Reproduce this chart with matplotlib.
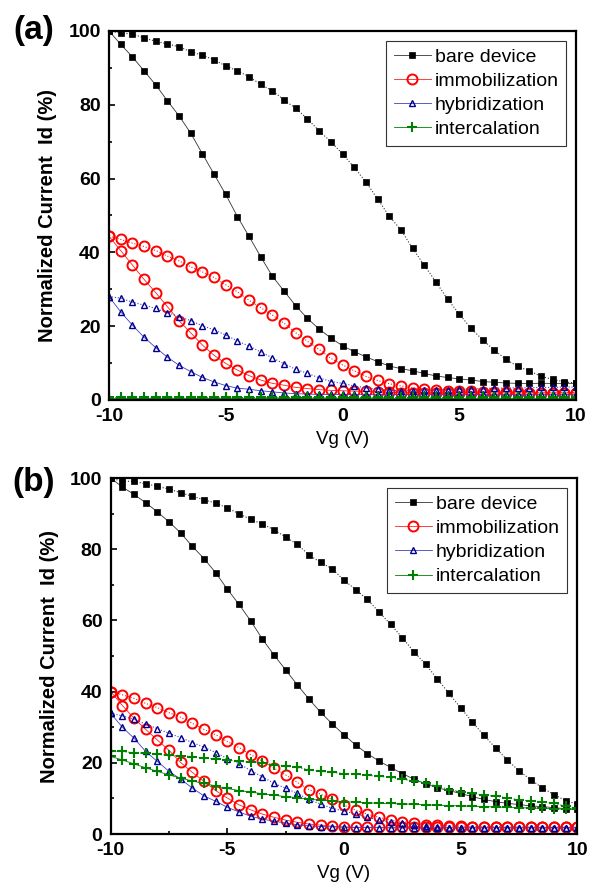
import numpy as np
import matplotlib
matplotlib.use('Agg')
import matplotlib.pyplot as plt
from matplotlib.ticker import MultipleLocator

plt.rcParams['font.family'] = ['Liberation Sans', 'DejaVu Sans']
plt.rcParams['axes.unicode_minus'] = False

# ─── DATA (Vg sweep, 0.5 V step) ───
VG = [-10, -9.5, -9, -8.5, -8, -7.5, -7, -6.5, -6, -5.5, -5, -4.5, -4, -3.5, -3,
      -2.5, -2, -1.5, -1, -0.5, 0, 0.5, 1, 1.5, 2, 2.5, 3, 3.5, 4, 4.5, 5, 5.5,
      6, 6.5, 7, 7.5, 8, 8.5, 9, 9.5, 10]

# panel (a)
bare_a_lo = [100, 96.4, 93.0, 89.2, 85.4, 81.1, 77.0, 72.3, 66.7, 61.2, 55.7, 49.7, 44.3, 38.8, 33.5,
             29.5, 25.5, 22.1, 19.2, 16.8, 14.7, 13.1, 11.7, 10.4, 9.2, 8.5, 7.9, 7.2, 6.5, 6.1, 5.7, 5.4,
             5.0, 4.8, 4.6, 4.5, 4.5, 4.5, 4.5, 4.5, 4.5]
bare_a_up = [100, 99.4, 99.2, 98.1, 97.2, 96.5, 95.7, 94.4, 93.4, 92.2, 90.5, 89.2, 87.6, 85.5, 83.8,
             81.3, 79.0, 76.2, 72.9, 70.0, 66.7, 63.0, 59.1, 54.5, 49.8, 46.1, 41.1, 36.5, 32.0, 27.3, 23.3, 19.4,
             16.3, 13.5, 11.0, 9.1, 7.9, 6.4, 5.6, 4.9, 4.6]
immo_a_up = [44.4, 43.5, 42.5, 41.6, 40.5, 39.0, 37.7, 36.1, 34.7, 33.2, 31.2, 29.3, 27.0, 25.0, 23.0,
             20.8, 18.2, 15.9, 13.7, 11.3, 9.5, 7.9, 6.4, 5.3, 4.4, 3.8, 3.3, 3.0, 2.7, 2.5, 2.4, 2.3,
             2.2, 2.2, 2.1, 2.1, 2.0, 2.0, 2.0, 2.0, 2.0]
immo_a_lo = [44.4, 40.5, 36.6, 32.7, 29.1, 25.3, 21.5, 18.2, 14.9, 12.1, 9.9, 8.1, 6.6, 5.4, 4.5,
             4.0, 3.4, 3.1, 2.8, 2.6, 2.5, 2.4, 2.3, 2.2, 2.1, 2.0, 1.9, 1.9, 1.9, 1.9, 1.9, 1.9,
             1.9, 1.9, 1.9, 1.9, 1.9, 1.9, 1.9, 1.9, 1.9]
hyb_a_up = [28.0, 27.6, 26.5, 25.7, 24.8, 23.7, 22.6, 21.5, 20.1, 19.0, 17.6, 16.0, 14.6, 13.0, 11.4,
            9.8, 8.3, 7.2, 6.0, 5.0, 4.5, 3.8, 3.3, 2.9, 2.6, 2.5, 2.5, 2.6, 2.7, 2.8, 2.9, 3.0,
            3.1, 3.2, 3.2, 3.3, 3.3, 3.4, 3.4, 3.5, 3.5]
hyb_a_lo = [28.0, 23.9, 20.3, 17.0, 14.2, 11.6, 9.4, 7.7, 6.1, 4.9, 3.9, 3.2, 2.9, 2.5, 2.2,
            1.9, 1.7, 1.6, 1.5, 1.5, 1.5, 1.5, 1.5, 1.5, 1.5, 1.5, 1.5, 1.5, 1.5, 1.5, 1.5, 1.5,
            1.5, 1.5, 1.5, 1.5, 1.5, 1.5, 1.5, 1.5, 1.5]
int_a_up = [0.9, 0.9, 0.9, 0.9, 0.9, 0.9, 0.9, 0.9, 0.9, 0.9, 0.9, 0.9, 0.9, 0.9, 0.9,
            0.9, 0.9, 0.9, 0.9, 0.9, 0.9, 0.9, 0.9, 0.9, 0.9, 0.9, 0.9, 0.9, 0.9, 0.9, 0.9, 0.9,
            0.9, 0.9, 0.9, 0.9, 0.9, 0.9, 0.9, 0.9, 0.9]
int_a_lo = [0.6, 0.6, 0.6, 0.6, 0.6, 0.6, 0.6, 0.6, 0.6, 0.6, 0.6, 0.6, 0.6, 0.6, 0.6,
            0.6, 0.6, 0.6, 0.6, 0.6, 0.6, 0.6, 0.6, 0.6, 0.6, 0.6, 0.6, 0.6, 0.6, 0.6, 0.6, 0.6,
            0.6, 0.6, 0.6, 0.6, 0.6, 0.6, 0.6, 0.6, 0.6]

# panel (b)
bare_b_lo = [100, 97.5, 95.4, 93.1, 90.5, 87.7, 84.6, 80.8, 77.4, 73.4, 68.8, 64.5, 59.9, 54.8, 50.3,
             46.1, 41.9, 37.9, 34.2, 30.9, 27.9, 25.0, 22.6, 20.5, 18.7, 17.0, 15.4, 14.1, 13.0, 12.2, 11.4, 10.5,
             9.7, 9.1, 8.6, 8.3, 7.9, 7.7, 7.4, 7.1, 6.9]
bare_b_up = [100, 99.1, 99.1, 98.4, 97.7, 96.9, 95.9, 94.9, 93.9, 93.0, 91.6, 90.0, 88.4, 87.1, 85.5,
             83.4, 81.4, 78.4, 76.3, 74.5, 71.3, 68.7, 65.9, 62.4, 58.9, 55.2, 51.2, 47.7, 43.6, 39.5, 35.5, 31.5,
             27.7, 24.2, 20.8, 17.8, 15.3, 13.0, 11.1, 9.4, 8.4]
immo_b_up = [40.0, 39.1, 38.1, 36.7, 35.5, 34.1, 32.8, 31.1, 29.4, 27.9, 26.0, 24.3, 22.3, 20.5, 18.5,
             16.6, 14.5, 12.5, 11.2, 9.7, 8.1, 6.7, 5.6, 4.7, 3.9, 3.5, 3.0, 2.6, 2.4, 2.3, 2.2, 2.1,
             2.1, 2.0, 2.0, 2.0, 2.0, 2.0, 2.0, 2.0, 2.0]
immo_b_lo = [40.0, 36.1, 32.5, 29.4, 26.4, 23.5, 20.1, 17.3, 14.8, 12.2, 10.1, 8.2, 6.8, 5.6, 4.7,
             3.9, 3.3, 2.8, 2.5, 2.2, 2.0, 1.9, 1.9, 1.9, 1.9, 1.9, 1.9, 1.9, 1.9, 1.9, 1.9, 1.9,
             1.9, 1.9, 1.9, 1.9, 1.9, 1.9, 1.9, 1.9, 1.9]
hyb_b_up = [33.9, 33.2, 32.2, 30.9, 29.6, 28.3, 27.1, 25.7, 24.4, 22.9, 21.2, 19.8, 17.8, 16.1, 14.2,
            12.9, 11.4, 9.7, 8.4, 7.2, 6.5, 5.6, 4.7, 3.9, 3.5, 3.0, 2.5, 2.2, 2.0, 1.8, 1.8, 1.8,
            1.8, 1.8, 1.8, 1.8, 1.8, 1.8, 1.8, 1.8, 1.8]
hyb_b_lo = [33.9, 30.0, 26.9, 23.2, 20.4, 17.6, 15.4, 12.9, 10.7, 9.2, 7.5, 6.2, 5.0, 4.2, 3.6,
            3.1, 2.6, 2.3, 2.1, 2.0, 1.9, 1.8, 1.8, 1.8, 1.7, 1.7, 1.7, 1.7, 1.7, 1.7, 1.7, 1.7,
            1.7, 1.7, 1.7, 1.7, 1.7, 1.7, 1.7, 1.7, 1.7]
int_b_up = [23.2, 23.2, 22.8, 22.7, 22.4, 22.1, 22.0, 21.7, 21.3, 21.1, 20.8, 20.4, 20.2, 19.9, 19.5,
            19.1, 18.7, 18.1, 17.6, 17.3, 17.0, 16.8, 16.5, 16.2, 15.9, 15.4, 14.9, 14.3, 13.4, 12.5, 11.9, 11.4,
            10.9, 10.6, 10.2, 9.6, 9.3, 9.0, 8.6, 7.8, 7.2]
int_b_lo = [21.8, 20.8, 19.7, 18.6, 17.6, 16.6, 15.7, 14.9, 14.2, 13.5, 12.8, 12.2, 11.8, 11.3, 10.9,
            10.5, 10.2, 9.8, 9.5, 9.3, 9.1, 8.9, 8.8, 8.6, 8.6, 8.4, 8.4, 8.2, 8.1, 8.0, 7.9, 7.8,
            7.7, 7.6, 7.5, 7.4, 7.3, 7.2, 7.1, 7.0, 7.0]

LABELS = ['bare device', 'immobilization', 'hybridization', 'intercalation']
PANELS = {
    'a': [(bare_a_lo, bare_a_up), (immo_a_lo, immo_a_up), (hyb_a_lo, hyb_a_up), (int_a_lo, int_a_up)],
    'b': [(bare_b_lo, bare_b_up), (immo_b_lo, immo_b_up), (hyb_b_lo, hyb_b_up), (int_b_lo, int_b_up)],
}

# marker styles per series
STYLES = [
    dict(color='#333333', marker='s', mec='black', mfc='black', ms=4.6, mew=0.5),
    dict(color='#ff2020', marker='o', mec='#ff0000', mfc='none', ms=7.2, mew=1.4),
    dict(color='#4040c0', marker='^', mec='#000090', mfc='none', ms=4.8, mew=1.0),
    dict(color='#008000', marker='+', mec='#008000', mfc='none', ms=6.5, mew=1.5),
]

fig = plt.figure(figsize=(5.89, 8.92), dpi=100)
boxes = {'a': [0.185, 0.5516, 0.793, 0.4137], 'b': [0.188, 0.065, 0.792, 0.399]}
letter_y = {'a': 1 - 30 / 892, 'b': 1 - 482 / 892}

for key in ['a', 'b']:
    ax = fig.add_axes(boxes[key])
    for (lo, up), lab, st in zip(PANELS[key], LABELS, STYLES):
        ax.plot(VG, lo, ls='-', lw=0.6, label=lab, **st)
        ax.plot(VG, up, ls=':', lw=0.8, **st)

    ax.set_xlim(-10, 10)
    ax.set_ylim(0, 100)
    ax.xaxis.set_major_locator(MultipleLocator(5))
    ax.xaxis.set_minor_locator(MultipleLocator(2.5))
    ax.yaxis.set_major_locator(MultipleLocator(20))
    ax.yaxis.set_minor_locator(MultipleLocator(10))
    ax.tick_params(which='both', direction='in', top=False, right=False, width=1.2)
    ax.tick_params(which='major', length=4.5, pad=6, labelsize=14)
    ax.tick_params(which='minor', length=2.5)
    for lbl in ax.get_xticklabels() + ax.get_yticklabels():
        lbl.set_fontweight('bold')
    for sp in ax.spines.values():
        sp.set_linewidth(1.6)

    ax.set_xlabel('Vg (V)', fontsize=13.5, labelpad=4)
    ax.set_ylabel('Normalized Current  Id (%)', fontsize=14.5, fontweight='bold', labelpad=8)

    leg = ax.legend(loc='upper right', fontsize=14, frameon=True, fancybox=False,
                    edgecolor='#333333', framealpha=1, handlelength=1.9, handletextpad=0.2,
                    labelspacing=0.33, borderpad=0.4, borderaxespad=0.5)
    leg.get_frame().set_linewidth(0.8)

    fig.text(0.057, letter_y[key], f'({key})', fontsize=24, fontweight='bold',
             ha='center', va='center')

fig.savefig('out.png', dpi=100)
